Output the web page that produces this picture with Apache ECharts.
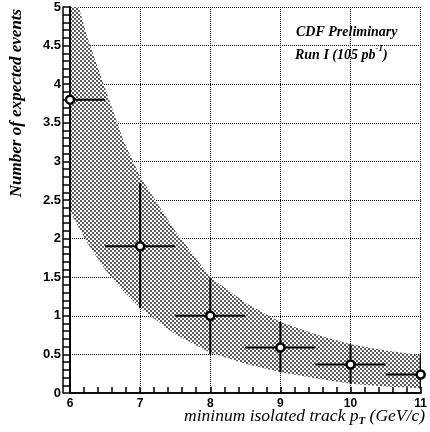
<!DOCTYPE html>
<html><head><meta charset="utf-8">
<script src="https://cdn.jsdelivr.net/npm/echarts@6/dist/echarts.min.js"></script>
<style>html,body{margin:0;padding:0;background:#fff}#c{width:430px;height:432px}</style>
</head><body><div id="c"></div>
<script>
// ---- data ----
const xTickLabels = ['6', '7', '8', '9', '10', '11'];
const yTickLabels = ['0', '0.5', '1', '1.5', '2', '2.5', '3', '3.5', '4', '4.5', '5'];
const ptX = [6, 7, 8, 9, 10, 11];
const ptY = [3.8, 1.9, 1.0, 0.59, 0.37, 0.24];
const ptXErr = [0.5, 0.5, 0.5, 0.5, 0.5, 0.5];
const ptYLow = [2.35, 1.10, 0.50, 0.27, 0.12, 0.05];
const ptYHigh = [5.4, 2.72, 1.49, 0.92, 0.63, 0.50];
const bandX = [6, 6.25, 6.5, 6.75, 7, 7.5, 8, 8.5, 9, 9.5, 10, 10.5, 11];
const bandLow = [2.35, 1.94, 1.6, 1.33, 1.10, 0.76, 0.52, 0.38, 0.27, 0.19, 0.12, 0.085, 0.06];
const bandHigh = [5.4, 4.6, 3.95, 3.3, 2.8, 2.1, 1.5, 1.17, 0.92, 0.76, 0.63, 0.55, 0.49];

// ---- stipple pattern (checkerboard of 2px dots) ----
const pat = document.createElement('canvas');
pat.width = 4; pat.height = 4;
(function () {
  const g = pat.getContext('2d');
  g.fillStyle = '#fff'; g.fillRect(0, 0, 4, 4);
  g.fillStyle = '#5a5a5a'; g.fillRect(0, 0, 2, 2); g.fillRect(2, 2, 2, 2);
})();

const chart = echarts.init(document.getElementById('c'), null, {renderer: 'canvas'});
const serif = '"Liberation Serif", "DejaVu Serif", serif';
const sans = '"Liberation Sans", Arial, sans-serif';

const option = {
  animation: false,
  backgroundColor: '#fff',
  grid: {left: 70, right: 6, top: 7, bottom: 39},
  xAxis: [{
    type: 'value', min: 6, max: 11, interval: 1, position: 'bottom',
    axisLine: {show: true, lineStyle: {color: '#000', width: 2}},
    axisTick: {show: true, inside: true, length: 6, lineStyle: {color: '#000', width: 1.5}},
    minorTick: {show: true, splitNumber: 5, length: 6, lineStyle: {color: '#000', width: 1.5}},
    splitLine: {show: true, lineStyle: {color: '#000', type: 'dotted', width: 1}},
    axisLabel: {
      margin: 5, color: '#000', fontFamily: sans, fontWeight: 'bold', fontSize: 12,
      formatter: v => xTickLabels[Math.round(v - 6)]
    }
  }, {
    type: 'value', min: 6, max: 11, position: 'top',
    axisLine: {show: true, lineStyle: {color: '#111', width: 1.5}},
    axisTick: {show: false}, axisLabel: {show: false}, splitLine: {show: false}
  }],
  yAxis: [{
    type: 'value', min: 0, max: 5, interval: 0.5, position: 'left',
    axisLine: {show: true, lineStyle: {color: '#000', width: 2}},
    axisTick: {show: true, inside: false, length: 7, lineStyle: {color: '#000', width: 1.5}},
    minorTick: {show: true, splitNumber: 5, length: 7, lineStyle: {color: '#000', width: 1.5}},
    splitLine: {show: true, lineStyle: {color: '#000', type: 'dotted', width: 1}},
    axisLabel: {
      margin: 9, color: '#000', fontFamily: sans, fontWeight: 'bold', fontSize: 13,
      formatter: v => yTickLabels[Math.round(v * 2)]
    }
  }, {
    type: 'value', min: 0, max: 5, position: 'left', offset: 7,
    axisLine: {show: true, lineStyle: {color: '#000', width: 1.5}},
    axisTick: {show: false}, axisLabel: {show: false}, splitLine: {show: false}
  }],
  series: [{
    type: 'custom', name: 'band', clip: true, silent: true, z: 1,
    encode: {x: 0, y: [1, 2]},
    data: bandX.map((x, i) => [x, bandLow[i], bandHigh[i]]),
    renderItem: function (params, api) {
      if (params.dataIndex !== 0) return null;
      const pts = [];
      for (let i = 0; i < bandX.length; i++) pts.push(api.coord([bandX[i], bandHigh[i]]));
      for (let i = bandX.length - 1; i >= 0; i--) pts.push(api.coord([bandX[i], bandLow[i]]));
      return {type: 'polygon', shape: {points: pts},
        style: {fill: {image: pat, repeat: 'repeat'}, stroke: null}};
    }
  }, {
    type: 'custom', name: 'errors', clip: true, silent: true, z: 3,
    encode: {x: 0, y: 1},
    data: ptX.map((x, i) => [x, ptY[i], ptXErr[i], ptYLow[i], ptYHigh[i]]),
    renderItem: function (params, api) {
      const x = api.value(0), y = api.value(1), xe = api.value(2);
      const l = api.coord([x - xe, y]), r = api.coord([x + xe, y]);
      const t = api.coord([x, api.value(4)]), b = api.coord([x, api.value(3)]);
      const st = {stroke: '#000', lineWidth: 2};
      return {type: 'group', children: [
        {type: 'line', shape: {x1: l[0], y1: l[1], x2: r[0], y2: r[1]}, style: st},
        {type: 'line', shape: {x1: t[0], y1: t[1], x2: b[0], y2: b[1]}, style: st}
      ]};
    }
  }, {
    type: 'scatter', name: 'points', symbol: 'circle', symbolSize: 8, silent: true,
    itemStyle: {color: '#fff', borderColor: '#000', borderWidth: 2.5, opacity: 1},
    data: ptX.map((x, i) => [x, ptY[i]]),
    z: 5
  }],
  graphic: [{
    type: 'text', x: 17, y: 103, rotation: Math.PI / 2, z: 100,
    style: {text: 'Number of expected events', font: 'italic bold 17px ' + serif,
      fill: '#000', align: 'center', verticalAlign: 'middle'}
  }, {
    type: 'text', x: 296, y: 32, z: 100,
    style: {text: 'CDF Preliminary', font: 'italic bold 14px ' + serif,
      fill: '#000', align: 'left', verticalAlign: 'middle'}
  }, {
    type: 'text', x: 295, y: 53, z: 100,
    style: {
      text: '{a|Run I (105 pb}{s|-1}{a|)}', align: 'left', verticalAlign: 'middle', fill: '#000',
      rich: {
        a: {fontFamily: serif, fontStyle: 'italic', fontWeight: 'bold', fontSize: 14, lineHeight: 18, verticalAlign: 'bottom'},
        s: {fontFamily: serif, fontStyle: 'italic', fontWeight: 'bold', fontSize: 9, lineHeight: 9, verticalAlign: 'top'}
      }
    }
  }, {
    type: 'text', x: 425, y: 417, z: 100,
    style: {
      text: '{a|mininum isolated track p}{s|T}{a| (GeV/c)}', align: 'right', verticalAlign: 'middle', fill: '#000',
      rich: {
        a: {fontFamily: serif, fontStyle: 'italic', fontSize: 17.5, lineHeight: 20, verticalAlign: 'top'},
        s: {fontFamily: serif, fontStyle: 'italic', fontWeight: 'bold', fontSize: 11, lineHeight: 11, verticalAlign: 'bottom'}
      }
    }
  }]
};
chart.setOption(option);
</script>
</body></html>
